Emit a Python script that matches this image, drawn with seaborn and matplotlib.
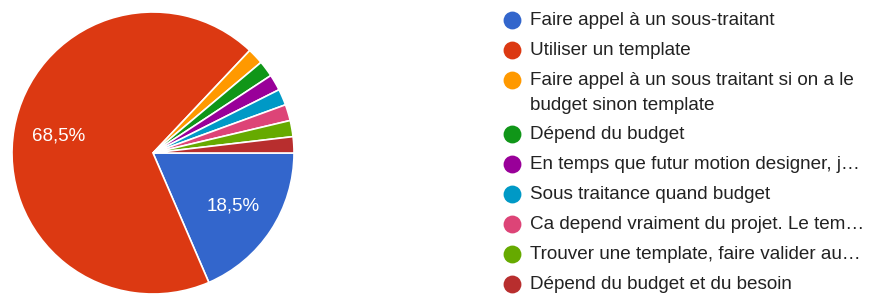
import matplotlib
matplotlib.use("Agg")
import matplotlib.pyplot as plt
import seaborn as sns

# Data (54 answers in total)
labels = [
    "Faire appel à un sous-traitant",
    "Utiliser un template",
    "Faire appel à un sous traitant si on a le\nbudget sinon template",
    "Dépend du budget",
    "En temps que futur motion designer, j…",
    "Sous traitance quand budget",
    "Ca depend vraiment du projet. Le tem…",
    "Trouver une template, faire valider au…",
    "Dépend du budget et du besoin",
]
counts = [10, 37, 1, 1, 1, 1, 1, 1, 1]
colors = ["#3366cc", "#dc3912", "#ff9900", "#109618", "#990099",
          "#0099c6", "#dd4477", "#66aa00", "#b82e2e"]

sns.set_theme(style="white")
plt.rcParams["font.family"] = ["Liberation Sans", "DejaVu Sans"]

W, H = 870, 298
fig = plt.figure(figsize=(W / 100, H / 100), dpi=100)

# pie area: center (153,153), radius 141 px
cx, cy, r = 153, 153, 141
ax = fig.add_axes([(cx - r) / W, (H - cy - r) / H, 2 * r / W, 2 * r / H])


def fmt_pct(p):
    if p < 5:
        return ""
    return f"{p:.1f}".replace(".", ",") + "%"


wedges, texts, autotexts = ax.pie(
    counts,
    colors=sns.color_palette(colors),
    startangle=0,
    counterclock=False,
    autopct=fmt_pct,
    pctdistance=0.68,
    wedgeprops=dict(edgecolor="white", linewidth=1.2),
    textprops=dict(color="white", fontsize=13.5),
)
ax.set_xlim(-1, 1)
ax.set_ylim(-1, 1)
ax.set_aspect("equal")
ax.axis("off")

# legend drawn in a pixel-like axes
lax = fig.add_axes([490 / W, 0, 380 / W, 1])
lax.set_xlim(490, 870)
lax.set_ylim(H, 0)
lax.axis("off")

y = 20.5
for lab, col in zip(labels, colors):
    lax.scatter([512.5], [y], s=165, color=col, edgecolor="none")
    lines = lab.split("\n")
    for k, line in enumerate(lines):
        lax.text(530, y + k * 25, line, va="center", ha="left",
                 fontsize=13.6, color="#222222")
    y += 30 + 24 * (len(lines) - 1)

fig.savefig("out.png", dpi=100, facecolor="white")
